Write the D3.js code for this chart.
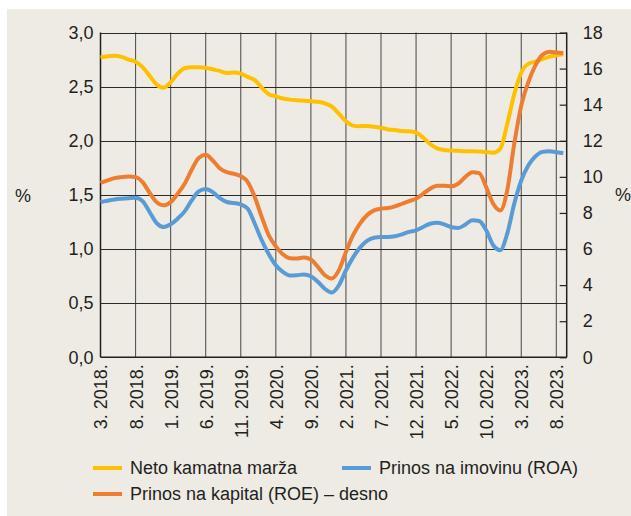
<!DOCTYPE html>
<html>
<head>
<meta charset="utf-8">
<script src="https://cdn.jsdelivr.net/npm/d3@7"></script>
<style>
  html, body { margin: 0; padding: 0; background: #ffffff; }
  svg text { font-family: "Liberation Sans", Arial, sans-serif; fill: #231f20; }
</style>
</head>
<body>
<svg id="chart" width="631" height="516"></svg>
<script>
// ---- data (monthly, 3.2018 .. 9.2023) ----
const tickLabels = ["3. 2018.", "8. 2018.", "1. 2019.", "6. 2019.", "11. 2019.", "4. 2020.", "9. 2020.",
  "2. 2021.", "7. 2021.", "12. 2021.", "5. 2022.", "10. 2022.", "3. 2023.", "8. 2023."];
const leftTicks = [0, 0.5, 1.0, 1.5, 2.0, 2.5, 3.0];
const rightTicks = [0, 2, 4, 6, 8, 10, 12, 14, 16, 18];

const nim = [2.77, 2.78, 2.785, 2.775, 2.75, 2.73, 2.68, 2.60, 2.52, 2.49, 2.54, 2.62, 2.67, 2.68, 2.68, 2.675,
  2.66, 2.645, 2.625, 2.63, 2.62, 2.59, 2.56, 2.49, 2.43, 2.41, 2.39, 2.38, 2.375, 2.37, 2.365, 2.36,
  2.345, 2.315, 2.25, 2.18, 2.14, 2.135, 2.137, 2.13, 2.12, 2.105, 2.10, 2.09, 2.088, 2.075, 2.03, 1.97,
  1.93, 1.915, 1.91, 1.907, 1.904, 1.904, 1.90, 1.895, 1.89, 1.925, 2.155, 2.43, 2.63, 2.71, 2.73, 2.755,
  2.775, 2.79, 2.80];
const roa = [1.434, 1.446, 1.458, 1.465, 1.47, 1.474, 1.443, 1.342, 1.24, 1.204, 1.228, 1.28, 1.348, 1.449,
  1.532, 1.554, 1.526, 1.471, 1.434, 1.425, 1.412, 1.372, 1.234, 1.08, 0.952, 0.85, 0.789, 0.755, 0.758,
  0.765, 0.749, 0.697, 0.632, 0.599, 0.666, 0.804, 0.921, 1.013, 1.075, 1.105, 1.111, 1.111, 1.118, 1.136,
  1.158, 1.173, 1.204, 1.234, 1.243, 1.228, 1.204, 1.194, 1.225, 1.265, 1.259, 1.173, 1.035, 0.989, 1.142,
  1.418, 1.633, 1.772, 1.855, 1.897, 1.904, 1.894, 1.885];
const roe = [9.67, 9.80, 9.93, 9.985, 10.02, 9.985, 9.71, 9.12, 8.60, 8.42, 8.60, 9.06, 9.62, 10.39, 11.05,
  11.22, 10.91, 10.48, 10.26, 10.17, 10.04, 9.71, 8.88, 7.77, 6.76, 6.15, 5.71, 5.49, 5.47, 5.53, 5.42,
  5.01, 4.55, 4.37, 4.83, 5.84, 6.76, 7.41, 7.87, 8.14, 8.24, 8.27, 8.36, 8.51, 8.66, 8.79, 9.06, 9.34,
  9.51, 9.51, 9.47, 9.62, 9.985, 10.26, 10.21, 9.43, 8.51, 8.14, 9.25, 11.83, 13.95, 15.24, 16.16, 16.76,
  16.93, 16.89, 16.86];

const seriesNames = ["Neto kamatna marža", "Prinos na imovinu (ROA)", "Prinos na kapital (ROE) – desno"];
const colors = { nim: "#ffc000", roa: "#5b9bd5", roe: "#ed7d31" };

// ---- layout ----
const svg = d3.select("#chart");
const L = 100.5, R = 566.7, T = 32.5, B = 357.3;

svg.append("rect").attr("x", 7).attr("y", 9).attr("width", 624).attr("height", 507).attr("fill", "#eeebe4");

const x = d3.scaleLinear().domain([0, 66.48]).range([L, R]);
const yL = d3.scaleLinear().domain([0, 3]).range([B, T]);
const yR = d3.scaleLinear().domain([0, 18]).range([B, T]);

const g = svg.append("g");

// vertical gridlines (every 5 months)
const vTicks = d3.range(tickLabels.length).map(i => i * 5);
g.selectAll("line.v").data(vTicks.slice(1)).join("line")
  .attr("x1", d => x(d)).attr("x2", d => x(d)).attr("y1", T).attr("y2", B)
  .attr("stroke", "#555").attr("stroke-width", 1.1);
// horizontal gridlines
g.selectAll("line.h").data(leftTicks.slice(1)).join("line")
  .attr("x1", L).attr("x2", R).attr("y1", d => Math.round(yL(d)) + 0.5).attr("y2", d => Math.round(yL(d)) + 0.5)
  .attr("stroke", "#2a2a2a").attr("stroke-width", 1);

// frame: left, bottom, right axes
g.append("line").attr("x1", L).attr("x2", L).attr("y1", T).attr("y2", B).attr("stroke", "#231f20").attr("stroke-width", 1.5);
g.append("line").attr("x1", L).attr("x2", R).attr("y1", B).attr("y2", B).attr("stroke", "#231f20").attr("stroke-width", 1.5);
g.append("line").attr("x1", R).attr("x2", R).attr("y1", T).attr("y2", B).attr("stroke", "#231f20").attr("stroke-width", 1.5);

// left axis labels
const axL = d3.axisLeft(yL).tickValues(leftTicks).tickSize(0).tickPadding(7)
  .tickFormat(d => d3.format(".1f")(d).replace(".", ","));
const gL = svg.append("g").attr("transform", `translate(${L},0)`).call(axL);
gL.select(".domain").remove();
gL.selectAll("text").attr("font-size", 18).attr("font-family", "Liberation Sans, Arial, sans-serif").attr("fill", "#231f20");

// right axis with inward ticks
const axR = d3.axisRight(yR).tickValues(rightTicks).tickSize(-7).tickPadding(16).tickFormat(d3.format("d"));
const gR = svg.append("g").attr("transform", `translate(${R},0)`).call(axR);
gR.select(".domain").remove();
gR.selectAll("line").attr("stroke", "#231f20").attr("stroke-width", 1.2);
gR.selectAll("text").attr("font-size", 18).attr("font-family", "Liberation Sans, Arial, sans-serif").attr("fill", "#231f20");

// bottom axis labels (rotated)
const axB = d3.axisBottom(x).tickValues(vTicks).tickSize(0).tickPadding(0).tickFormat((d, i) => tickLabels[i]);
const gB = svg.append("g").attr("transform", `translate(0,${B})`).call(axB);
gB.select(".domain").remove();
gB.selectAll("text")
  .attr("font-size", 18).attr("font-family", "Liberation Sans, Arial, sans-serif").attr("fill", "#231f20")
  .attr("transform", "rotate(-90)")
  .attr("text-anchor", "end")
  .attr("x", -7).attr("y", 0).attr("dy", "0.36em");

// % labels
svg.append("text").attr("x", 23).attr("y", 196).attr("dy", "0.35em").attr("text-anchor", "middle").attr("font-size", 18).text("%");
svg.append("text").attr("x", 623).attr("y", 195).attr("dy", "0.35em").attr("text-anchor", "middle").attr("font-size", 18).text("%");

// lines
const months = d3.range(nim.length);
const mk = (yScale) => d3.line().x(d => x(d[0])).y(d => yScale(d[1])).curve(d3.curveMonotoneX);
const plot = svg.append("g");
plot.append("path").datum(months.map(i => [i, nim[i]])).attr("d", mk(yL))
  .attr("fill", "none").attr("stroke", colors.nim).attr("stroke-width", 4).attr("stroke-linejoin", "round");
plot.append("path").datum(months.map(i => [i, roa[i]])).attr("d", mk(yL))
  .attr("fill", "none").attr("stroke", colors.roa).attr("stroke-width", 4).attr("stroke-linejoin", "round");
plot.append("path").datum(months.map(i => [i, roe[i]])).attr("d", mk(yR))
  .attr("fill", "none").attr("stroke", colors.roe).attr("stroke-width", 4).attr("stroke-linejoin", "round");

// legend
const legendItems = [
  { name: seriesNames[0], color: colors.nim, lx: 93, ly: 468 },
  { name: seriesNames[1], color: colors.roa, lx: 342, ly: 468 },
  { name: seriesNames[2], color: colors.roe, lx: 93, ly: 494 }
];
const lg = svg.append("g");
legendItems.forEach(it => {
  lg.append("line").attr("x1", it.lx).attr("x2", it.lx + 29).attr("y1", it.ly).attr("y2", it.ly)
    .attr("stroke", it.color).attr("stroke-width", 4);
  lg.append("text").attr("x", it.lx + 37).attr("y", it.ly).attr("dy", "0.35em").attr("font-size", 18).text(it.name);
});
</script>
</body>
</html>
